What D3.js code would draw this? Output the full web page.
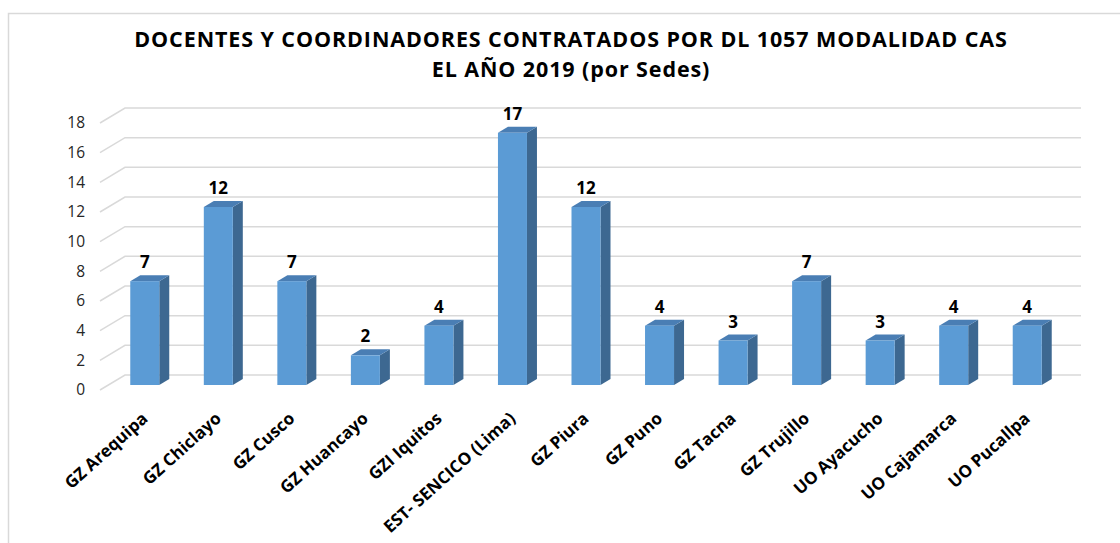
<!DOCTYPE html>
<html>
<head>
<meta charset="utf-8">
<script src="https://cdn.jsdelivr.net/npm/d3@7"></script>
<style>
  body { margin: 0; background: #fff; }
  text { font-family: "Open Sans", "Liberation Sans", sans-serif; }
</style>
</head>
<body>
<div id="chart"></div>
<script>
// data
var sedes = ["GZ Arequipa", "GZ Chiclayo", "GZ Cusco", "GZ Huancayo", "GZI Iquitos",
             "EST- SENCICO (Lima)", "GZ Piura", "GZ Puno", "GZ Tacna", "GZ Trujillo",
             "UO Ayacucho", "UO Cajamarca", "UO Pucallpa"];
var docentes = [7, 12, 7, 2, 4, 17, 12, 4, 3, 7, 3, 4, 4];
var yTicks = [0, 2, 4, 6, 8, 10, 12, 14, 16, 18];
var titleLines = ["DOCENTES Y COORDINADORES CONTRATADOS POR DL 1057 MODALIDAD CAS",
                  "EL AÑO 2019 (por Sedes)"];

var width = 1120, height = 543;

var svg = d3.select("#chart")
  .append("svg")
    .attr("width", width)
    .attr("height", height);

// chart border (only top/left visible)
svg.append("rect")
  .attr("x", 8.5).attr("y", 13.5)
  .attr("width", 1200).attr("height", 600)
  .style("fill", "none")
  .style("stroke", "#d9d9d9")
  .style("stroke-width", 1.5);

// title
svg.selectAll("titleLines")
  .data(titleLines)
  .enter()
  .append("text")
    .attr("x", 571)
    .attr("y", function(d, i) { return 47 + i * 29.5; })
    .attr("text-anchor", "middle")
    .style("font-size", "21.5px")
    .style("letter-spacing", "0.9px")
    .style("font-weight", "bold")
    .style("fill", "#000")
    .text(function(d) { return d; });

// scales (front plane of the bars)
var x = d3.scalePoint()
  .domain(sedes)
  .range([108, 1064])
  .padding(0.5);

var y = d3.scaleLinear()
  .domain([0, 18])
  .range([385, 118]);

// 3d depth
var wallDx = 17, wallDy = -10;   // from bar plane to back wall
var frontDx = -8, frontDy = 5;   // from bar plane to front edge
var barDx = 10, barDy = -6;      // bar thickness
var barW = 29;

// gridlines: slanted bit on the left + back wall
svg.selectAll("gridLines")
  .data(yTicks)
  .enter()
  .append("polyline")
    .attr("points", function(d) {
      var x0 = x.range()[0], x1 = x.range()[1];
      return [
        [x0 + frontDx, y(d) + frontDy],
        [x0 + wallDx, y(d) + wallDy],
        [x1 + wallDx, y(d) + wallDy]
      ].join(" ");
    })
    .style("fill", "none")
    .style("stroke", "#d9d9d9")
    .style("stroke-width", 1.5);

// y axis labels
var yAxis = svg.append("g")
  .attr("transform", "translate(" + (x.range()[0] + frontDx - 12) + "," + frontDy + ")")
  .call(d3.axisLeft(y).tickValues(yTicks).tickSize(0).tickPadding(3));
yAxis.select(".domain").remove();
yAxis.selectAll("text")
  .style("font-size", "15.5px")
  .style("fill", "#262626")
  .style("font-family", "\"Open Sans\", sans-serif");

// bars
var bars = svg.selectAll("myBars")
  .data(docentes)
  .enter()
  .append("g");

// side face
bars.append("polygon")
  .attr("points", function(d, i) {
    var bx = x(sedes[i]) + barW / 2;
    return [
      [bx, y(d)], [bx + barDx, y(d) + barDy],
      [bx + barDx, y(0) + barDy], [bx, y(0)]
    ].join(" ");
  })
  .style("fill", "#3d6891");

// top face
bars.append("polygon")
  .attr("points", function(d, i) {
    var bx = x(sedes[i]) - barW / 2;
    return [
      [bx, y(d)], [bx + barDx, y(d) + barDy],
      [bx + barW + barDx, y(d) + barDy], [bx + barW, y(d)]
    ].join(" ");
  })
  .style("fill", "#4a7eb4");

// front face
bars.append("rect")
  .attr("x", function(d, i) { return x(sedes[i]) - barW / 2; })
  .attr("y", function(d) { return y(d); })
  .attr("width", barW)
  .attr("height", function(d) { return y(0) - y(d); })
  .style("fill", "#5b9bd5");

// value labels
bars.append("text")
  .attr("x", function(d, i) { return x(sedes[i]); })
  .attr("y", function(d) { return y(d) - 13; })
  .attr("text-anchor", "middle")
  .style("font-size", "17px")
  .style("font-weight", "bold")
  .style("fill", "#000")
  .text(function(d) { return d; });

// category labels (rotated)
svg.selectAll("catLabels")
  .data(sedes)
  .enter()
  .append("text")
    .attr("transform", function(d) {
      return "translate(" + (x(d) + 4) + ",420) rotate(-42)";
    })
    .attr("text-anchor", "end")
    .style("font-size", "17px")
    .style("font-weight", "bold")
    .style("fill", "#000")
    .text(function(d) { return d; });
</script>
</body>
</html>
